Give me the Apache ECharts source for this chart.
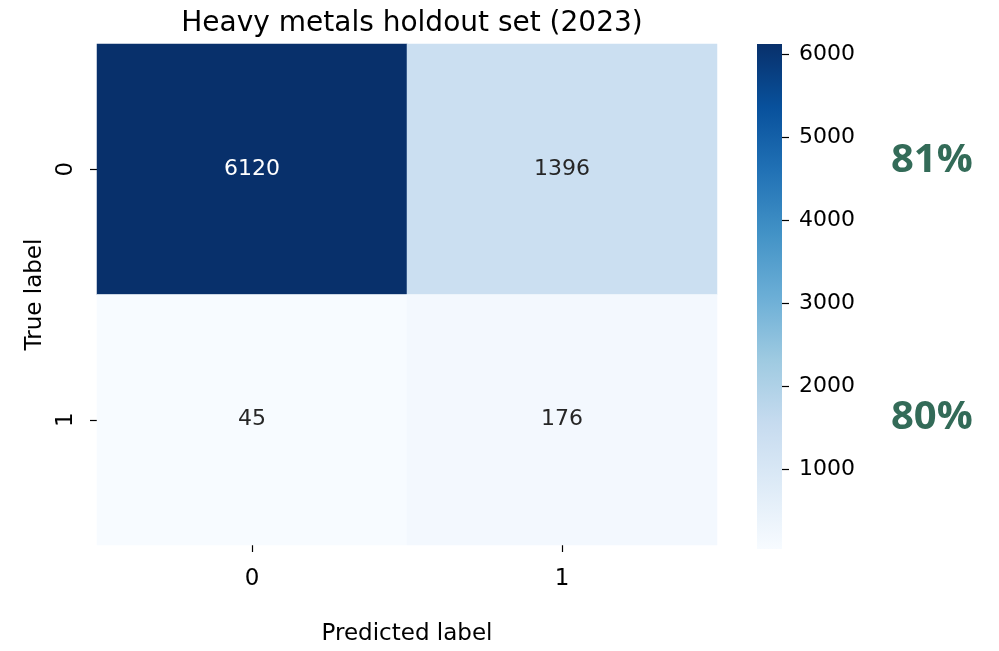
<!DOCTYPE html>
<html>
<head>
<meta charset="utf-8">
<script src="https://cdn.jsdelivr.net/npm/echarts@6/dist/echarts.min.js"></script>
<style>html,body{margin:0;padding:0;background:#fff}#c{width:999px;height:651px}</style>
</head>
<body>
<div id="c"></div>
<script>
var predictedLabels = ['0', '1'];
var trueLabels = ['0', '1'];
var counts = [[6120, 1396], [45, 176]];
var colorbarTicks = [1000, 2000, 3000, 4000, 5000, 6000];
var accuracyTexts = ['81%', '80%'];
var titleText = 'Heavy metals holdout set (2023)';
var blues = ['#f7fbff', '#deebf7', '#c6dbef', '#9ecae1', '#6baed6', '#4292c6', '#2171b5', '#08519c', '#08306b'];

var vmin = Infinity, vmax = -Infinity;
counts.forEach(function (r) { r.forEach(function (v) { vmin = Math.min(vmin, v); vmax = Math.max(vmax, v); }); });

var data = [];
counts.forEach(function (row, i) {
  row.forEach(function (v, j) {
    data.push({ value: [j, i, v], label: { color: v > (vmin + vmax) / 2 ? '#ffffff' : '#262626' } });
  });
});

var font = 'DejaVu Sans';
var chart = echarts.init(document.getElementById('c'));
var cb = { left: 757, top: 44, width: 25, height: 505 };
chart.setOption({
  animation: false,
  backgroundColor: '#ffffff',
  title: {
    text: titleText, left: 407, top: 5, textAlign: 'center',
    textStyle: { fontFamily: font, fontSize: 28, fontWeight: 'normal', color: '#000' }
  },
  grid: [
    { left: 97, top: 44, width: 620, height: 505 },
    { left: cb.left, top: cb.top, width: cb.width, height: cb.height }
  ],
  xAxis: [
    {
      type: 'category', data: predictedLabels, gridIndex: 0, position: 'bottom',
      name: 'Predicted label', nameLocation: 'middle', nameGap: 78,
      nameTextStyle: { fontFamily: font, fontSize: 23, color: '#000' },
      axisLine: { show: false },
      axisTick: { show: true, alignWithLabel: true, length: 7, lineStyle: { color: '#000', width: 1.2 } },
      axisLabel: { fontFamily: font, fontSize: 23, color: '#000', margin: 23 },
      splitLine: { show: false }
    },
    { type: 'category', data: [''], gridIndex: 1, show: false }
  ],
  yAxis: [
    {
      type: 'category', data: trueLabels, gridIndex: 0, inverse: true,
      name: 'True label', nameLocation: 'middle', nameGap: 50, nameRotate: 90,
      nameTextStyle: { fontFamily: font, fontSize: 23, color: '#000' },
      axisLine: { show: false },
      axisTick: { show: true, alignWithLabel: true, length: 7, lineStyle: { color: '#000', width: 1.2 } },
      axisLabel: { fontFamily: font, fontSize: 23, color: '#000', margin: 19, rotate: 90 },
      splitLine: { show: false }
    },
    {
      type: 'value', gridIndex: 1, position: 'right', min: vmin, max: vmax,
      axisLine: { show: false, onZero: false },
      splitLine: { show: false },
      axisTick: { show: true, inside: false, length: 7, customValues: colorbarTicks, lineStyle: { color: '#000', width: 1.2 } },
      axisLabel: { fontFamily: font, fontSize: 22, color: '#000', margin: 17, customValues: colorbarTicks,
        formatter: function (v) { return String(v); } }
    }
  ],
  visualMap: {
    type: 'continuous', min: vmin, max: vmax, seriesIndex: 0, show: false,
    inRange: { color: blues }
  },
  graphic: [{
    type: 'rect', left: cb.left, top: cb.top, silent: true, z: 0,
    shape: { width: cb.width, height: cb.height },
    style: {
      fill: new echarts.graphic.LinearGradient(0, 1, 0, 0, blues.map(function (c, k) {
        return { offset: k / (blues.length - 1), color: c };
      }))
    }
  }].concat(accuracyTexts.map(function (t, k) {
    return {
      type: 'text', left: 891, top: k === 0 ? 141 : 398,
      style: { text: t, fontFamily: 'Open Sans', fontWeight: 'bold', fontSize: 40, fill: '#336b58' }
    };
  })),
  series: [{
    type: 'heatmap', xAxisIndex: 0, yAxisIndex: 0, data: data,
    label: { show: true, fontFamily: font, fontSize: 22, formatter: function (p) { return p.value[2]; } },
    itemStyle: { borderWidth: 0 },
    emphasis: { disabled: true }
  }]
});
</script>
</body>
</html>
